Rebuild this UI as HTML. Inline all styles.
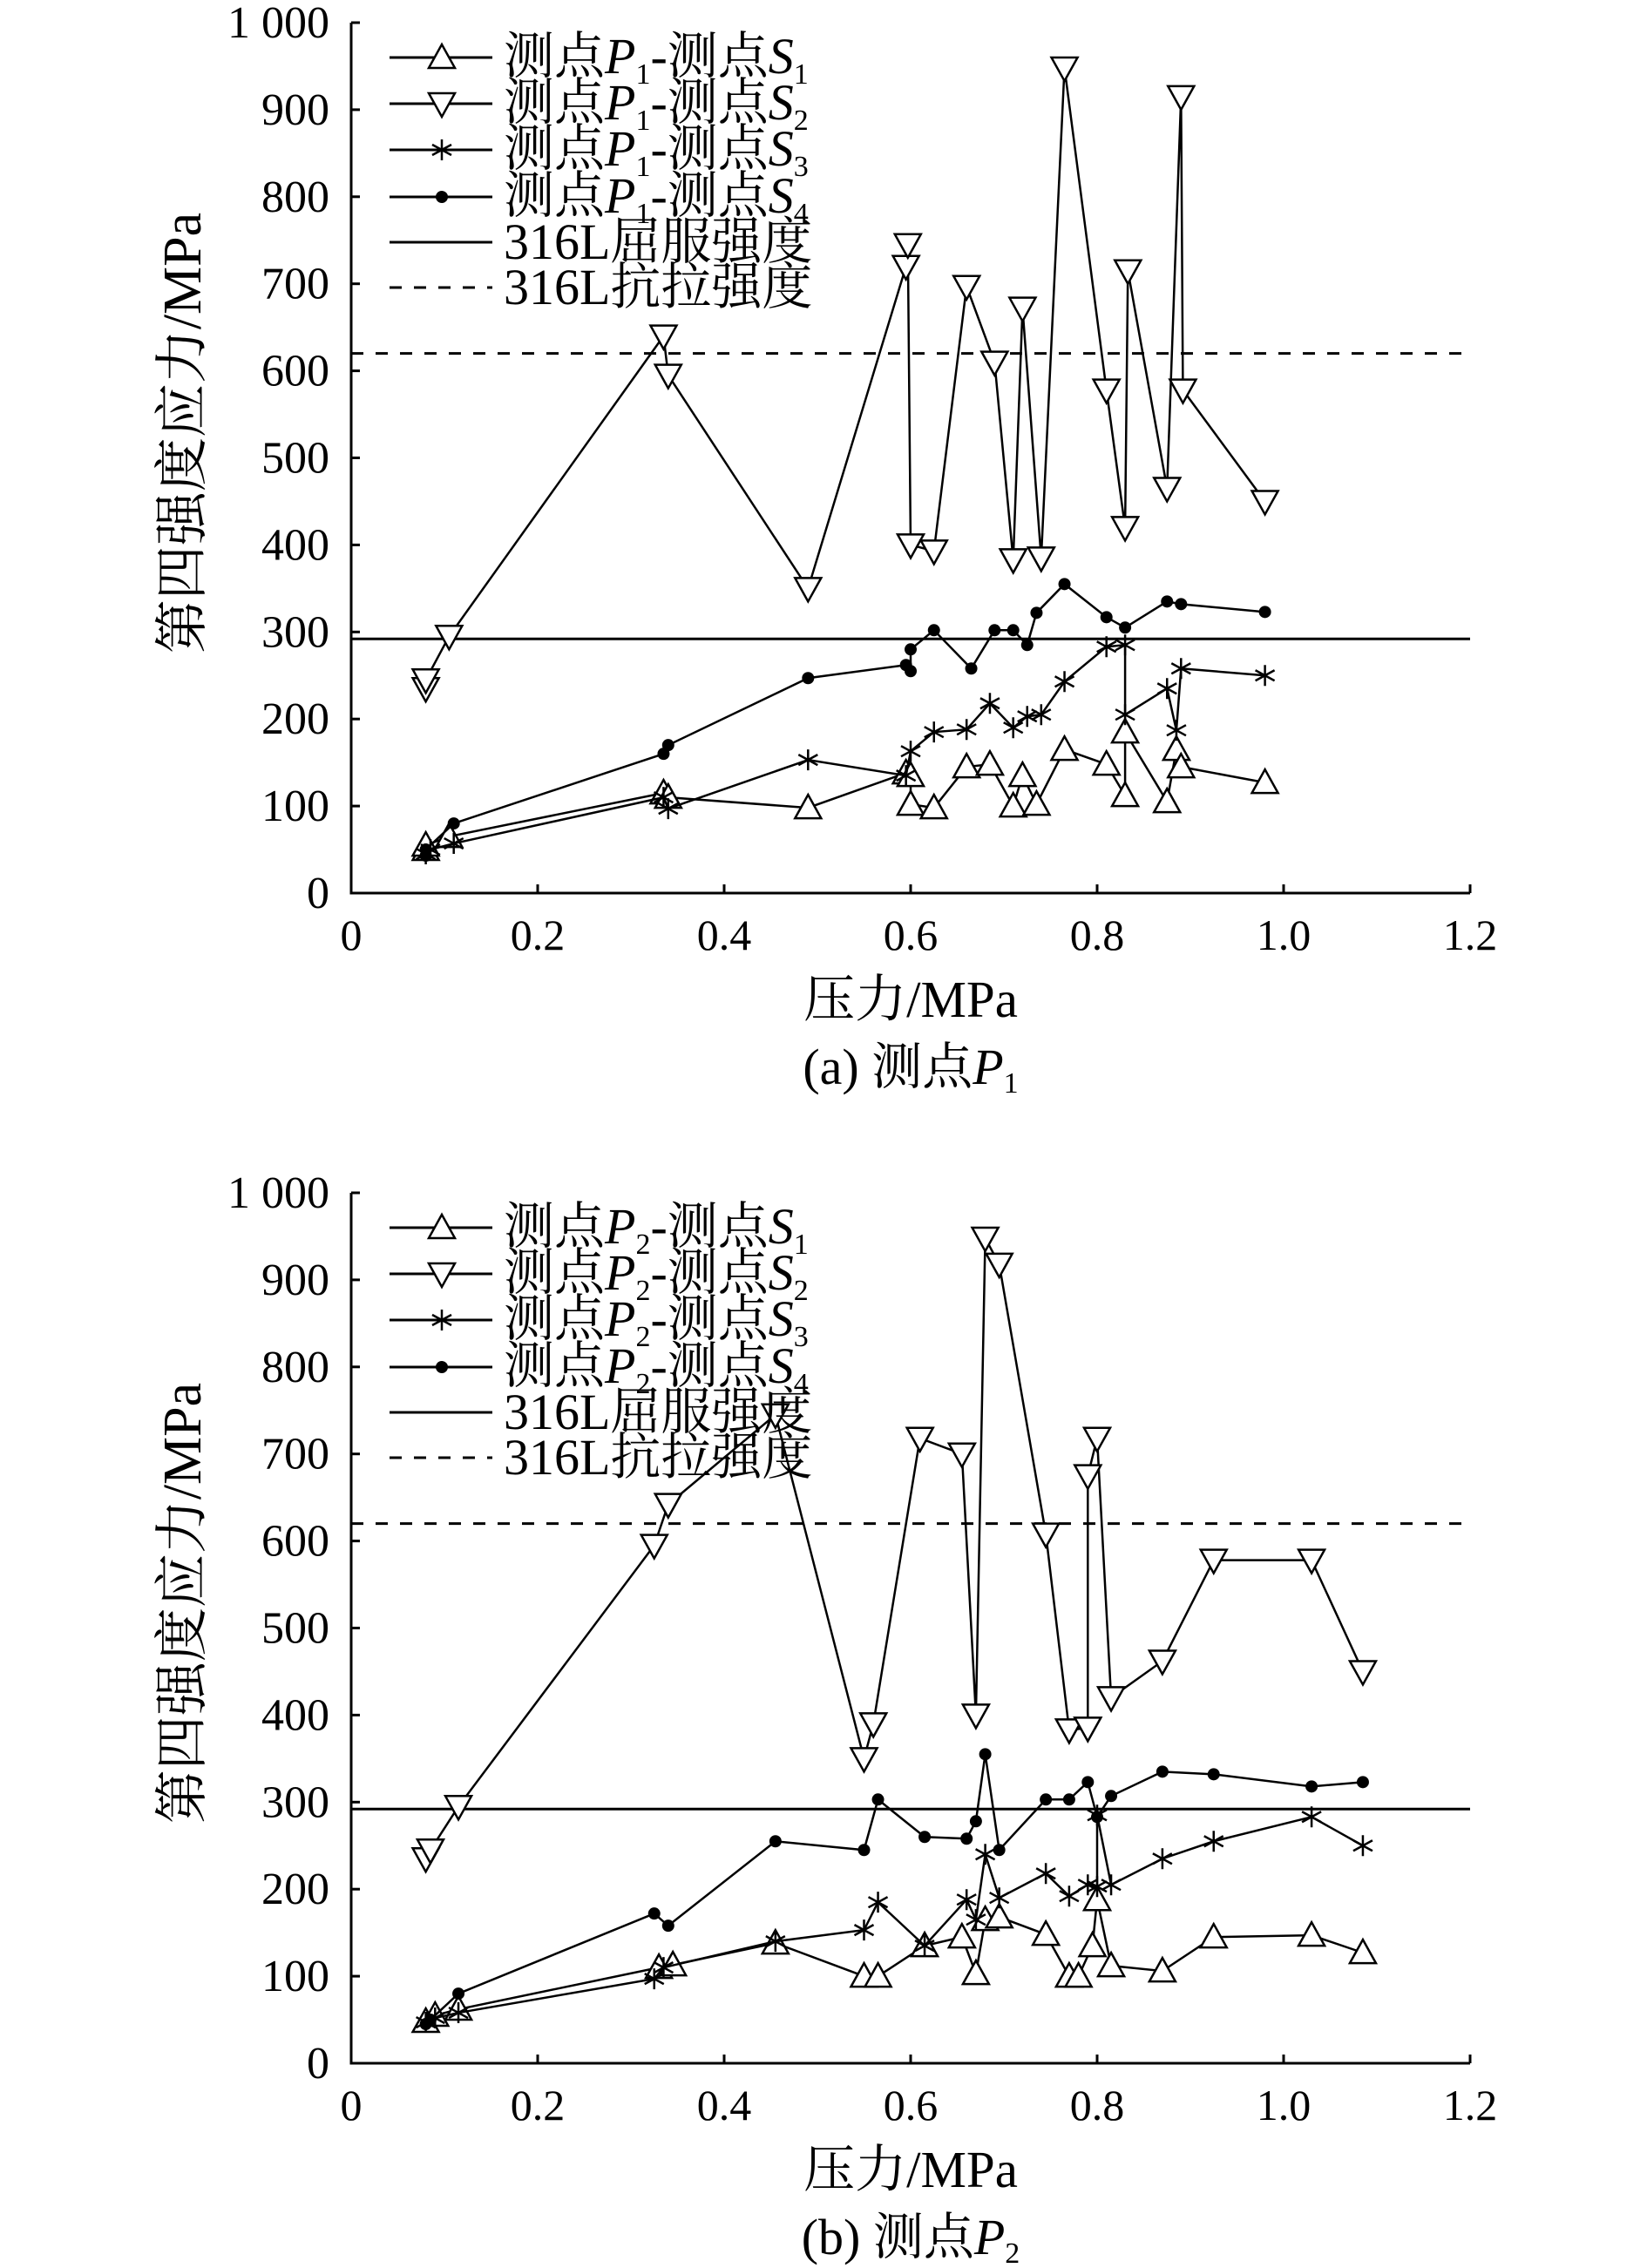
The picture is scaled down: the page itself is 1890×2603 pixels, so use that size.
<!DOCTYPE html>
<html><head><meta charset="utf-8"><style>
html,body{margin:0;padding:0;background:#fff;}
svg{display:block;}
text{font-family:"Liberation Serif","Noto Serif CJK SC",serif;fill:#000;}
</style></head><body>
<svg id="fig" width="1890" height="2603" viewBox="0 0 1890 2603" xmlns="http://www.w3.org/2000/svg"></svg>
<script>
const xTicks=[0,0.2,0.4,0.6,0.8,1.0,1.2];
const xTickLabels=["0","0.2","0.4","0.6","0.8","1.0","1.2"];
const yTicks=[0,100,200,300,400,500,600,700,800,900,1000];
const yTickLabels=["0","100","200","300","400","500","600","700","800","900","1 000"];
const yieldStrength=292;
const tensileStrength=620;
// Panel a
const aS1x=[0.08,0.08,0.105,0.335,0.34,0.49,0.595,0.6,0.6,0.625,0.66,0.685,0.71,0.72,0.735,0.765,0.81,0.83,0.83,0.875,0.885,0.89,0.98];
const aS1y=[50,55,65,115,110,98,138,135,102,98,145,148,100,135,102,165,148,112,185,105,165,145,127];
const aS2x=[0.08,0.08,0.105,0.335,0.34,0.49,0.595,0.597,0.6,0.625,0.66,0.69,0.71,0.72,0.74,0.765,0.81,0.83,0.833,0.875,0.89,0.892,0.98];
const aS2y=[235,245,295,640,595,350,720,745,400,393,697,610,383,672,385,948,578,420,715,465,915,578,450];
const aS3x=[0.08,0.085,0.11,0.335,0.34,0.49,0.595,0.6,0.625,0.66,0.685,0.71,0.725,0.74,0.765,0.81,0.83,0.83,0.875,0.885,0.89,0.98];
const aS3y=[45,50,57,110,97,153,135,163,185,188,218,190,203,205,243,283,285,205,235,187,258,250];
const aS4x=[0.08,0.08,0.11,0.335,0.34,0.49,0.595,0.6,0.6,0.625,0.665,0.69,0.71,0.725,0.735,0.765,0.81,0.83,0.875,0.89,0.98];
const aS4y=[43,50,80,160,170,247,262,255,280,302,258,302,302,285,322,355,317,305,335,332,323];
// Panel b
const bS1x=[0.08,0.09,0.115,0.33,0.345,0.455,0.55,0.565,0.615,0.655,0.67,0.68,0.695,0.745,0.77,0.78,0.795,0.8,0.815,0.87,0.925,1.03,1.085];
const bS1y=[48,55,62,110,113,138,100,100,135,145,103,165,168,148,100,100,135,188,112,106,145,147,127];
const bS2x=[0.08,0.085,0.115,0.325,0.34,0.455,0.55,0.56,0.61,0.655,0.67,0.68,0.695,0.745,0.77,0.79,0.79,0.8,0.815,0.87,0.925,1.03,1.085];
const bS2y=[235,245,295,595,642,745,350,390,718,700,400,948,918,608,383,385,675,718,420,462,578,578,450];
const bS3x=[0.08,0.09,0.115,0.325,0.335,0.455,0.55,0.565,0.615,0.66,0.67,0.68,0.695,0.745,0.77,0.79,0.8,0.8,0.815,0.87,0.925,1.03,1.085];
const bS3y=[47,52,58,97,110,140,153,185,135,188,165,240,190,218,192,205,203,285,205,235,255,283,250];
const bS4x=[0.08,0.085,0.115,0.325,0.34,0.455,0.55,0.565,0.615,0.66,0.67,0.68,0.695,0.745,0.77,0.79,0.8,0.815,0.87,0.925,1.03,1.085];
const bS4y=[45,50,80,172,158,255,245,303,260,258,278,355,245,303,303,323,283,307,335,332,318,323];

const NS="http://www.w3.org/2000/svg";
const svg=document.getElementById('fig');
function mk(tag,attrs,parent){const e=document.createElementNS(NS,tag);for(const k in attrs)e.setAttribute(k,attrs[k]);(parent||svg).appendChild(e);return e;}

function panel(off,letter,pnum,series){
  const X0=403,X1=1687,Y0=1025+off,Y1=26+off;
  const sx=v=>X0+(v/1.2)*(X1-X0);
  const sy=v=>Y0-(v/1000)*(Y0-Y1);
  const g=mk('g',{});
  
  
  const ax=mk('path',{d:`M${X0},${Y1} V${Y0} H${X1}`,stroke:'#000','stroke-width':3,fill:'none'},g);
  
  
  yTicks.forEach((v,i)=>{
    mk('line',{x1:X0,x2:X0+10,y1:sy(v),y2:sy(v),stroke:'#000','stroke-width':3},g);
    const t=mk('text',{x:X0-25,y:sy(v)+17,'font-size':52,'text-anchor':'end'},g);
    t.textContent=yTickLabels[i];
    
    
  });
  xTicks.forEach((v,i)=>{
    mk('line',{x1:sx(v),x2:sx(v),y1:Y0,y2:Y0-10,stroke:'#000','stroke-width':3},g);
    const t=mk('text',{x:sx(v),y:Y0+65,'font-size':50,'text-anchor':'middle'},g);
    t.textContent=xTickLabels[i];
    
    
  });
  const xt=mk('text',{x:1045,y:Y0+142,'font-size':59,'text-anchor':'middle'},g);
  xt.textContent='压力/MPa';
  
  
  const yt=mk('text',{x:0,y:0,'font-size':62,'text-anchor':'middle',transform:`translate(230,${off+497}) rotate(-90)`},g);
  yt.textContent='第四强度应力/MPa';
  
  
  const cap=mk('text',{x:1045,y:Y0+219,'font-size':58,'text-anchor':'middle'},g);
  cap.innerHTML=`(${letter}) 测点<tspan font-style="italic">P</tspan><tspan font-size="34" dy="10">${pnum}</tspan>`;
  
  
  const yl=mk('line',{x1:X0,x2:X1,y1:sy(yieldStrength),y2:sy(yieldStrength),stroke:'#000','stroke-width':3},g);
  
  
  const tl=mk('line',{x1:X0,x2:X1,y1:sy(tensileStrength),y2:sy(tensileStrength),stroke:'#000','stroke-width':3,'stroke-dasharray':'14 14'},g);
  
  
  series.forEach(s=>{
    const pts=s.x.map((v,i)=>sx(v)+','+sy(s.y[i])).join(' ');
    const pl=mk('polyline',{points:pts,fill:'none',stroke:'#000','stroke-width':2.5},g);
    
    
    s.x.forEach((v,i)=>{marker(g,s.m,sx(v),sy(s.y[i]),s.name);});
  });
  const labs=[['S','1','up'],['S','2','down'],['S','3','star'],['S','4','dot']];
  const ly=[66,119,172,226,278,330].map(v=>v+off);
  labs.forEach((l,i)=>{
    const lg=mk('g',{},g);
    
    
    mk('line',{x1:447,x2:565,y1:ly[i],y2:ly[i],stroke:'#000','stroke-width':3},lg);
    marker(lg,l[2],507,ly[i],'legend');
    const t=mk('text',{x:578,y:ly[i]+18,'font-size':58},lg);
    t.innerHTML=`测点<tspan font-style="italic">P</tspan><tspan font-size="34" dy="12">${pnum}</tspan><tspan dy="-12">-测点</tspan><tspan font-style="italic">S</tspan><tspan font-size="34" dy="12">${l[1]}</tspan>`;
  });
  [['316L屈服强度',''],['316L抗拉强度','14 14']].forEach((l,j)=>{
    const lg=mk('g',{},g);
    
    
    const a={x1:447,x2:565,y1:ly[4+j],y2:ly[4+j],stroke:'#000','stroke-width':3};
    if(l[1])a['stroke-dasharray']=l[1];
    mk('line',a,lg);
    const t=mk('text',{x:578,y:ly[4+j]+19,'font-size':58},lg);
    t.textContent=l[0];
  });
}
function marker(g,m,x,y,name){
  let e;
  if(m==='up') e=mk('polygon',{points:`${x},${y-15} ${x-15},${y+12} ${x+15},${y+12}`,fill:'#fff',stroke:'#000','stroke-width':2.5},g);
  else if(m==='down') e=mk('polygon',{points:`${x},${y+15} ${x-15},${y-12} ${x+15},${y-12}`,fill:'#fff',stroke:'#000','stroke-width':2.5},g);
  else if(m==='dot') e=mk('circle',{cx:x,cy:y,r:7,fill:'#000'},g);
  else e=mk('path',{d:`M${x},${y-12}V${y+12}M${x-11},${y-6}L${x+11},${y+6}M${x-11},${y+6}L${x+11},${y-6}`,stroke:'#000','stroke-width':2.5,fill:'none'},g);
  
  
}
panel(0,'a','1',[
  {name:'s1',m:'up',x:aS1x,y:aS1y},{name:'s2',m:'down',x:aS2x,y:aS2y},
  {name:'s3',m:'star',x:aS3x,y:aS3y},{name:'s4',m:'dot',x:aS4x,y:aS4y}]);
panel(1343,'b','2',[
  {name:'s1',m:'up',x:bS1x,y:bS1y},{name:'s2',m:'down',x:bS2x,y:bS2y},
  {name:'s3',m:'star',x:bS3x,y:bS3y},{name:'s4',m:'dot',x:bS4x,y:bS4y}]);
</script>
</body></html>
